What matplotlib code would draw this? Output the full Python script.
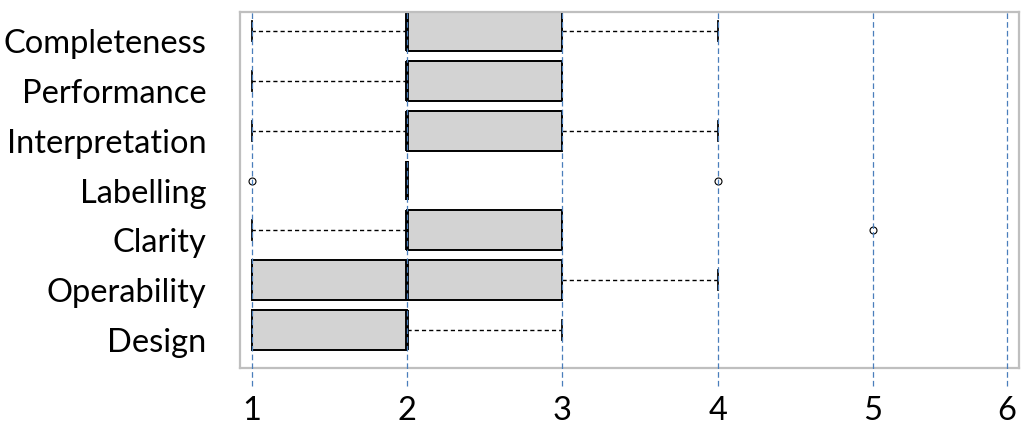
import matplotlib
matplotlib.use("Agg")
import matplotlib.pyplot as plt
import matplotlib.transforms as mtransforms
import numpy as np

categories = ["Completeness", "Performance", "Interpretation", "Labelling",
              "Clarity", "Operability", "Design"]
whisker_low = [1, 1, 1, 2, 1, 1, 1]
q1 = [2, 2, 2, 2, 2, 1, 1]
median = [2, 2, 2, 2, 2, 2, 2]
q3 = [3, 3, 3, 2, 3, 3, 2]
whisker_high = [4, 3, 4, 2, 3, 4, 3]
outliers = [[], [], [], [1, 4], [5], [], []]
x_ticks = [1, 2, 3, 4, 5, 6]
x_labels = ["1", "2", "3", "4", "5", "6"]

plt.rcParams['font.family'] = ['Lato', 'DejaVu Sans']

fig = plt.figure(figsize=(10.26, 4.25), dpi=100)
ax = fig.add_axes([240/1026, 57/425, 779/1026, 356/425])

# reference axis is compressed beyond 5
k = 0.863
def fwd(x):
    x = np.asarray(x, dtype=float)
    return np.where(x <= 5, x, 5 + (x - 5) * k)
def inv(x):
    x = np.asarray(x, dtype=float)
    return np.where(x <= 5, x, 5 + (x - 5) / k)
ax.set_xscale('function', functions=(fwd, inv))

n = len(categories)
positions = list(range(n, 0, -1))
stats = []
for i in range(n):
    stats.append(dict(whislo=whisker_low[i], q1=q1[i], med=median[i], q3=q3[i],
                      whishi=whisker_high[i], fliers=outliers[i], label=categories[i]))

ax.bxp(stats, positions=positions, vert=False, widths=0.8, patch_artist=True,
       boxprops=dict(facecolor='#D3D3D3', edgecolor='black', linewidth=1.4),
       medianprops=dict(color='black', linewidth=2.8),
       whiskerprops=dict(color='black', linewidth=1.0, linestyle=(0, (3, 2.2))),
       capprops=dict(color='black', linewidth=1.3),
       flierprops=dict(marker='o', markersize=5, markerfacecolor='none',
                       markeredgecolor='black', markeredgewidth=0.8))

for xv in x_ticks:
    ax.axvline(xv, ymin=-0.05, ymax=1.006, color='#4A7EBB', linewidth=0.9,
               linestyle=(0, (4.5, 2.5)), zorder=5, clip_on=False)

ax.set_xlim(0.923, 6.09)
ax.set_ylim(0.24, 7.38)
ax.set_xticks(x_ticks)
ax.set_xticklabels(x_labels)
ax.set_yticks(positions)
ax.set_yticklabels(categories)
ax.xaxis.set_minor_locator(matplotlib.ticker.NullLocator())
ax.tick_params(axis='both', length=0, labelsize=23.5)
ax.tick_params(axis='x', pad=20)
ax.tick_params(axis='y', pad=24)
offset = mtransforms.ScaledTranslation(0, -10/100, fig.dpi_scale_trans)
for lab in ax.get_yticklabels():
    lab.set_transform(lab.get_transform() + offset)
for s in ax.spines.values():
    s.set_color('#BFBFBF')
    s.set_linewidth(1.6)

fig.savefig("out.png", dpi=100)
